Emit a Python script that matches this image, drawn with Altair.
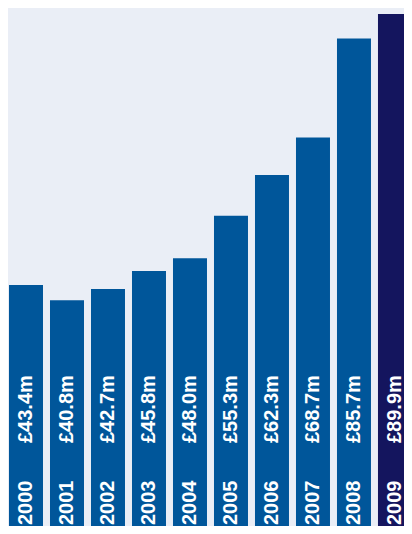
import altair as alt
import pandas as pd

years = [2000, 2001, 2002, 2003, 2004, 2005, 2006, 2007, 2008, 2009]
values = [43.4, 40.8, 42.7, 45.8, 48.0, 55.3, 62.3, 68.7, 85.7, 89.9]
groups = ["past"] * 9 + ["latest"]

df = pd.DataFrame({
    "year": years,
    "value": values,
    "group": groups,
    "label": [f"£{v:.1f}m" for v in values],
    "year_label": [str(y) for y in years],
})

BG = "#eaeef6"
FONT = "Liberation Sans"

x = alt.X("year:Q", axis=None,
          scale=alt.Scale(domain=[1999.561, 2009.22], nice=False, zero=False, padding=0))

bars = alt.Chart(df).mark_bar(width=34, clip=True).encode(
    x=x,
    y=alt.Y("value:Q", axis=None,
            scale=alt.Scale(domain=[2.06, 90.93], nice=False, zero=False, padding=0)),
    color=alt.Color("group:N", legend=None,
                    scale=alt.Scale(domain=["past", "latest"], range=["#00569a", "#14155e"])),
)

value_text = alt.Chart(df).mark_text(
    angle=270, align="left", baseline="middle", color="white",
    font=FONT, fontWeight="bold", fontSize=20, clip=True,
).encode(x=x, y=alt.value(435), text="label:N")

year_text = alt.Chart(df).mark_text(
    angle=270, align="left", baseline="middle", color="white",
    font=FONT, fontWeight="bold", fontSize=20, clip=True,
).encode(x=x, y=alt.value(517), text="year_label:N")

chart = alt.layer(bars, value_text, year_text).properties(
    width=396, height=518, padding=0, background=BG,
).configure_view(stroke=None)

chart.save("out.html", embed_options={"renderer": "svg", "actions": False})
